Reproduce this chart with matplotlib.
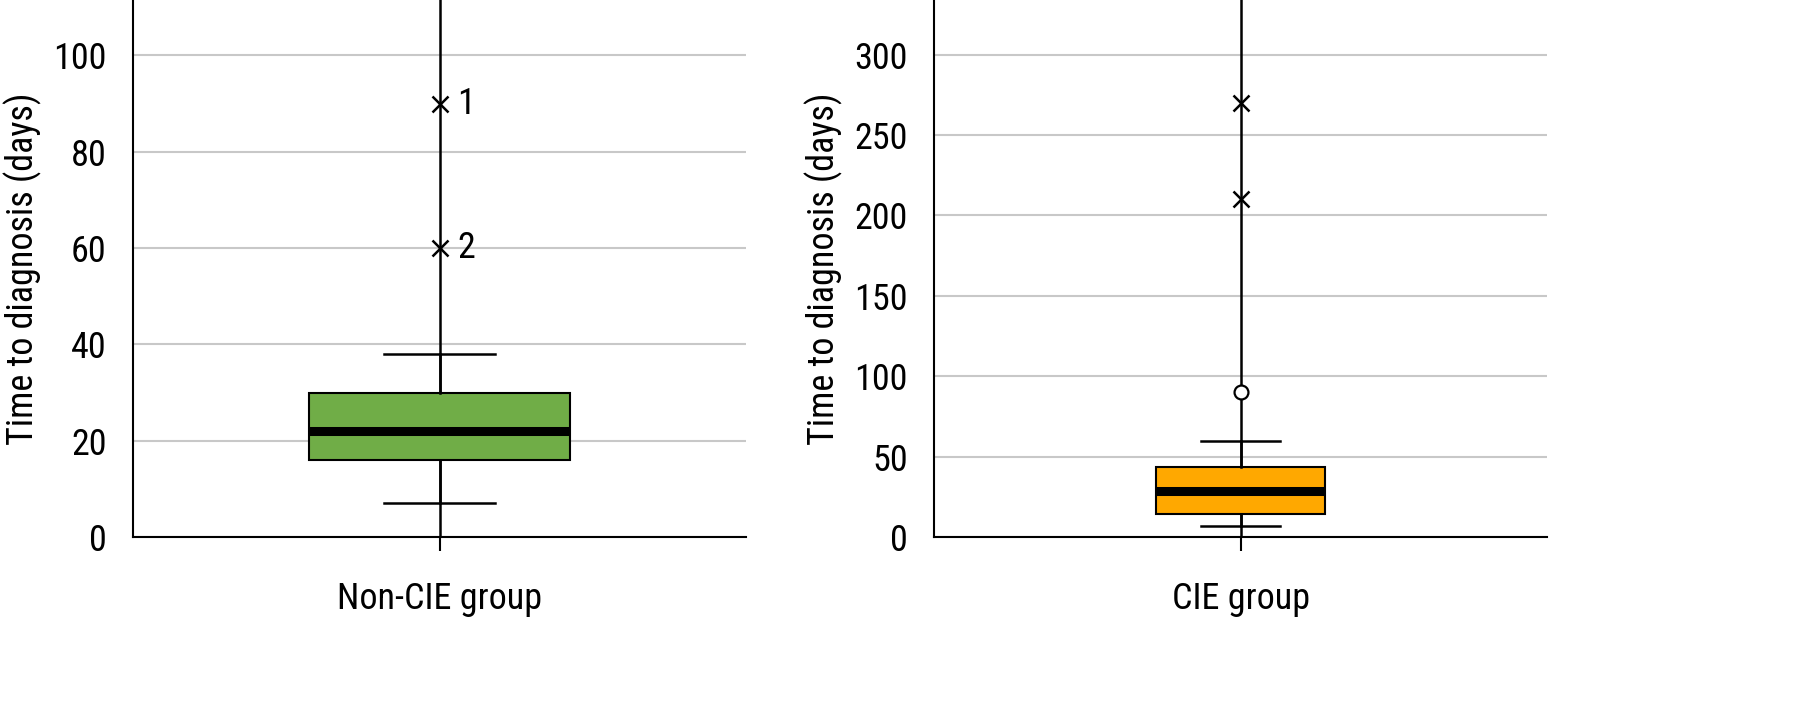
import matplotlib
matplotlib.use("Agg")
import matplotlib.pyplot as plt
from matplotlib import font_manager

# ---- data ----
groups = ["Non-CIE group", "CIE group"]
q1 = [16, 14.5]
med = [22, 28.5]
q3 = [30, 43.5]
whislo = [7, 7]
whishi = [38, 60]
circle_outliers = [[], [90]]
cross_outliers = [[60, 90], [210, 270]]
cross_labels = [["2", "1"], []]
y_max = [111.5, 334]
y_ticks = [[0, 20, 40, 60, 80, 100], [0, 50, 100, 150, 200, 250, 300]]
box_colors = ["#70AD47", "#FFA800"]
box_widths = [0.426, 0.277]
cap_widths = [0.18, 0.13]

names = {f.name for f in font_manager.fontManager.ttflist}
fam = None
for cand in ["Roboto Condensed", "Liberation Sans Narrow", "Open Sans Condensed", "DejaVu Sans Condensed"]:
    if cand in names:
        fam = cand
        break
if fam is None:
    fam = "Liberation Sans"
    fs = 23
else:
    fs = 26
plt.rcParams["font.family"] = [fam, "DejaVu Sans"]

fig = plt.figure(figsize=(18, 7.01), dpi=100)
lefts = [133 / 1800, 934 / 1800]
for i in range(2):
    ax = fig.add_axes([lefts[i], 164 / 701, 613 / 1800, 537 / 701])
    ax.set_xlim(0.5, 1.5)
    ax.set_ylim(0, y_max[i])
    ax.set_yticks(y_ticks[i])
    ax.yaxis.grid(True, color="#C8C8C8", linewidth=1.5, zorder=0)
    ax.set_axisbelow(True)
    for s in ["top", "right"]:
        ax.spines[s].set_visible(False)
    for s in ["left", "bottom"]:
        ax.spines[s].set_linewidth(1.5)
        ax.spines[s].set_color("black")
    ax.tick_params(axis="y", length=0, pad=19, labelsize=fs)
    ax.tick_params(axis="x", length=10, width=1.5, pad=22, labelsize=fs)
    # full-height center line
    ax.axvline(1, color="black", linewidth=1.8, zorder=1)
    stats = [{
        "med": med[i], "q1": q1[i], "q3": q3[i],
        "whislo": whislo[i], "whishi": whishi[i], "fliers": [],
        "label": groups[i],
    }]
    ax.bxp(stats, positions=[1], widths=box_widths[i], patch_artist=True,
           showfliers=False, capwidths=cap_widths[i],
           boxprops=dict(facecolor=box_colors[i], edgecolor="black", linewidth=1.5),
           medianprops=dict(color="black", linewidth=6.5, solid_capstyle="butt"),
           whiskerprops=dict(color="black", linewidth=1.8),
           capprops=dict(color="black", linewidth=1.8),
           manage_ticks=False, zorder=3)
    ax.set_xticks([1])
    ax.set_xticklabels([groups[i]])
    if cross_outliers[i]:
        ax.plot([1] * len(cross_outliers[i]), cross_outliers[i], linestyle="none",
                marker="x", markersize=12, markeredgewidth=1.8, color="black", zorder=4)
    if circle_outliers[i]:
        ax.plot([1] * len(circle_outliers[i]), circle_outliers[i], linestyle="none",
                marker="o", markersize=10, markeredgewidth=1.6, markerfacecolor="white",
                markeredgecolor="black", zorder=4)
    for v, lab in zip(cross_outliers[i], cross_labels[i]):
        ax.annotate(lab, (1, v), xytext=(13, 0), textcoords="offset points",
                    va="center", ha="left", fontsize=fs)
    ax.set_ylabel("Time to diagnosis (days)", fontsize=fs)
    ax.yaxis.set_label_coords(-0.148, 0.5)

fig.savefig("out.png", dpi=100)
